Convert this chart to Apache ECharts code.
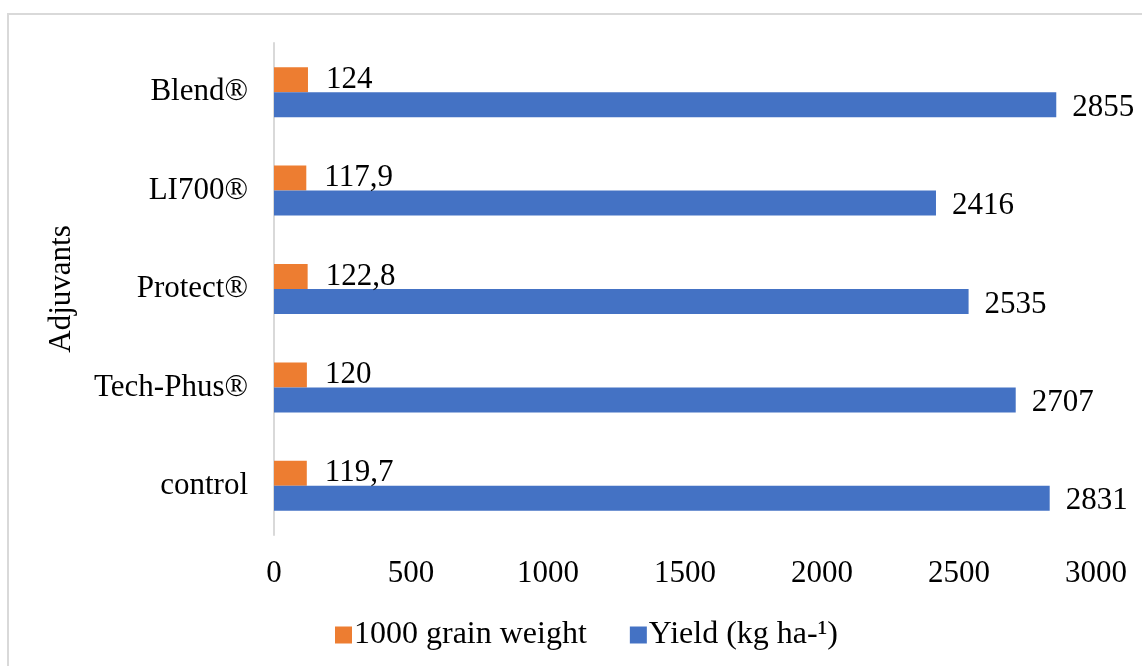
<!DOCTYPE html>
<html>
<head>
<meta charset="utf-8">
<script src="https://cdn.jsdelivr.net/npm/echarts@6/dist/echarts.min.js"></script>
<style>
    html, body { margin: 0; padding: 0; background: #fff; }
    #frame {
        position: absolute; left: 7px; top: 13px;
        width: 1150px; height: 670px;
        border: 2px solid #D9D9D9;
        box-sizing: border-box;
    }
    #chart { position: absolute; left: 0; top: 0; width: 1142px; height: 666px; }
</style>
</head>
<body>
<div id="frame"></div>
<div id="chart"></div>
<script>
// bottom-to-top order, as in the picture
const adjuvants = ['control', 'Tech-Phus®', 'Protect®', 'LI700®', 'Blend®'];
const grainWeight = [119.7, 120, 122.8, 117.9, 124];
const yieldKg = [2831, 2707, 2535, 2416, 2855];
const xTicks = [0, 500, 1000, 1500, 2000, 2500, 3000];

const FONT = '"Liberation Serif", "Times New Roman", serif';
const FS = 31;

// decimal comma like the original
const commaLabel = p => String(p.value).replace('.', ',');

const chart = echarts.init(document.getElementById('chart'));

chart.setOption({
    animation: false,
    textStyle: { fontFamily: FONT, color: '#000' },
    grid: {
        left: 274,
        right: 46,
        top: 43,
        bottom: 131
    },
    legend: {
        left: 330,
        top: 614,
        itemWidth: 17,
        itemHeight: 17,
        itemGap: 43,
        icon: 'rect',
        textStyle: { fontFamily: FONT, fontSize: 32, color: '#000', padding: [0, 0, 0, -3] },
        data: ['1000 grain weight', 'Yield (kg ha-¹)']
    },
    xAxis: {
        type: 'value',
        min: xTicks[0],
        max: xTicks[xTicks.length - 1],
        interval: 500,
        axisLine: { show: false },
        axisTick: { show: false },
        splitLine: { show: false },
        axisLabel: {
            fontFamily: FONT, fontSize: FS, color: '#000', margin: 23,
            formatter: v => String(v)
        }
    },
    yAxis: {
        type: 'category',
        data: adjuvants,
        name: 'Adjuvants',
        nameLocation: 'middle',
        nameGap: 197,
        nameTextStyle: { fontFamily: FONT, fontSize: FS, color: '#000' },
        axisLine: { lineStyle: { color: '#D9D9D9', width: 2 } },
        axisTick: { show: false },
        axisLabel: { fontFamily: FONT, fontSize: FS, color: '#000', margin: 26 }
    },
    series: [
        {
            name: '1000 grain weight',
            type: 'bar',
            data: grainWeight,
            barWidth: 25,
            barGap: '0%',
            itemStyle: { color: '#ED7D31' },
            label: {
                show: true,
                position: 'right',
                distance: 18,
                fontFamily: FONT,
                fontSize: FS,
                color: '#000',
                formatter: commaLabel
            }
        },
        {
            name: 'Yield (kg ha-¹)',
            type: 'bar',
            data: yieldKg,
            barWidth: 25,
            barGap: '0%',
            itemStyle: { color: '#4472C4' },
            label: {
                show: true,
                position: 'right',
                distance: 16,
                fontFamily: FONT,
                fontSize: FS,
                color: '#000',
                offset: [0, 3],
                formatter: commaLabel
            }
        }
    ]
});
</script>
</body>
</html>
